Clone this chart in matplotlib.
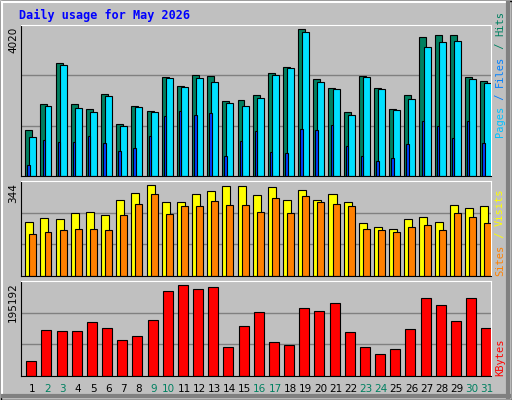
import numpy as np
import matplotlib
matplotlib.use("Agg")
import matplotlib.pyplot as plt
from matplotlib.patches import Rectangle

days = [str(d) for d in range(1, 32)]
weekend = [2, 3, 9, 10, 16, 17, 23, 24, 30, 31]
hits = [1264, 1974, 3101, 1974, 1837, 2246, 1428, 1919, 1783, 2710, 2465, 2765, 2738, 2055, 2083, 2219,
        2819, 2983, 4020, 2656, 2410, 1755, 2738, 2410, 1837, 2219, 3802, 3856, 3856, 2710, 2601]
files = [1073, 1919, 3038, 1864, 1755, 2192, 1373, 1892, 1755, 2683, 2437, 2683, 2574, 2001, 1919, 2137,
         2765, 2956, 3938, 2574, 2383, 1673, 2710, 2383, 1810, 2110, 3529, 3665, 3693, 2656, 2547]
pages = [309, 991, 937, 937, 1100, 909, 691, 773, 1100, 1646, 1783, 1673, 1728, 555, 964, 1237,
         664, 637, 1291, 1264, 1401, 828, 555, 418, 500, 882, 1510, 1373, 1046, 1510, 909]
visits = [202, 217, 213, 236, 243, 228, 288, 314, 344, 277, 277, 310, 322, 340, 340, 307,
          337, 288, 325, 288, 310, 277, 198, 183, 179, 213, 221, 202, 269, 258, 265]
sites = [157, 165, 172, 179, 179, 172, 228, 273, 310, 232, 265, 262, 284, 269, 269, 243,
         295, 236, 303, 277, 273, 265, 176, 172, 165, 183, 191, 172, 239, 224, 198]
kbytes = [31231, 97243, 95113, 95113, 116407, 101501, 75949, 84466, 120666, 182419, 195192, 186674,
          190933, 61043, 107890, 137701, 71690, 65302, 146219, 139831, 156866, 92984, 61043, 46137,
          56784, 99372, 167513, 152607, 118537, 167513, 101501]

W, H = 512, 400
BG = "#c0c0c0"
fig = plt.figure(figsize=(W / 100, H / 100), dpi=100, facecolor=BG)

# bevelled border
bd = fig.add_axes([0, 0, 1, 1])
bd.set_xlim(0, W); bd.set_ylim(H, 0); bd.axis("off")
bd.add_patch(Rectangle((0.5, 0.5), W - 1, H - 1, fill=False, ec="black", lw=1))
bd.plot([2, W - 3], [2, 2], color="white", lw=1.5)
bd.plot([2, 2], [2, H - 3], color="white", lw=1.5)
bd.plot([W - 4, W - 4], [3, H - 3], color="#808080", lw=3)
bd.plot([3, W - 3], [H - 4, H - 4], color="#808080", lw=3)

bd.text(19, 15, "Daily usage for May 2026", color="#0000ff", fontsize=8.5, fontweight="bold",
        family="DejaVu Sans Mono", va="center", ha="left")


def panel(y0, y1):
    ax = fig.add_axes([21 / W, 1 - y1 / H, 470 / W, (y1 - y0) / H])
    ax.set_facecolor(BG)
    ax.set_xlim(0, 31)
    ax.set_xticks([]); ax.set_yticks([])
    for s in ["left", "bottom"]:
        ax.spines[s].set_color("black")
    for s in ["top", "right"]:
        ax.spines[s].set_color("white")
    return ax


x = np.arange(31)
kw = dict(edgecolor="black", linewidth=0.8, align="edge")

ax1 = panel(25, 176)
top1 = 4138
ax1.set_ylim(0, top1)
for g in (top1 / 3, 2 * top1 / 3):
    ax1.axhline(g, color="#808080", lw=1, zorder=0)
ax1.bar(x + 0.28, hits, width=0.46, color="#008060", **kw)
ax1.bar(x + 0.55, files, width=0.46, color="#00e0ff", **kw)
ax1.bar(x + 0.42, pages, width=0.16, color="#0040ff", **kw)

ax2 = panel(181, 276)
top2 = 358
ax2.set_ylim(0, top2)
for g in (top2 / 3, 2 * top2 / 3):
    ax2.axhline(g, color="#808080", lw=1, zorder=0)
ax2.bar(x + 0.28, visits, width=0.53, color="#ffff00", **kw)
ax2.bar(x + 0.55, sites, width=0.46, color="#ff8000", **kw)

ax3 = panel(281, 376)
top3 = 203000
ax3.set_ylim(0, top3)
for g in (top3 / 3, 2 * top3 / 3):
    ax3.axhline(g, color="#808080", lw=1, zorder=0)
ax3.bar(x + 0.35, kbytes, width=0.66, color="#ff0000", **kw)

for i, d in enumerate(days):
    c = "#008060" if int(d) in weekend else "black"
    bd.text(21 + (i + 0.75) * 470 / 31, 389, d, color=c, fontsize=7.5, ha="center", va="center")

# left max labels
lab = dict(fontsize=7.5, rotation=90, ha="center", va="top", color="black")
bd.text(13, 27, "4020", **lab)
bd.text(13, 183, "344", **lab)
bd.text(13, 282, "195192", **lab)


# right legends (bottom-to-top)
def vlegend(y, parts):
    yy = y
    for t, c in parts:
        bd.text(500, yy, t, color=c, fontsize=7.5, rotation=90, ha="center", va="bottom",
                family="DejaVu Sans Mono")
        yy -= len(t) * 6.3


vlegend(137, [("Pages", "#00c0ff"), (" / ", "#0080ff"), ("Files", "#0080ff"), (" / ", "#008060"), ("Hits", "#008060")])
vlegend(276, [("Sites", "#ff8000"), (" / ", "#ffff00"), ("Visits", "#ffff00")])
vlegend(376, [("KBytes", "#ff0000")])

fig.savefig("out.png", dpi=100, facecolor=BG)
